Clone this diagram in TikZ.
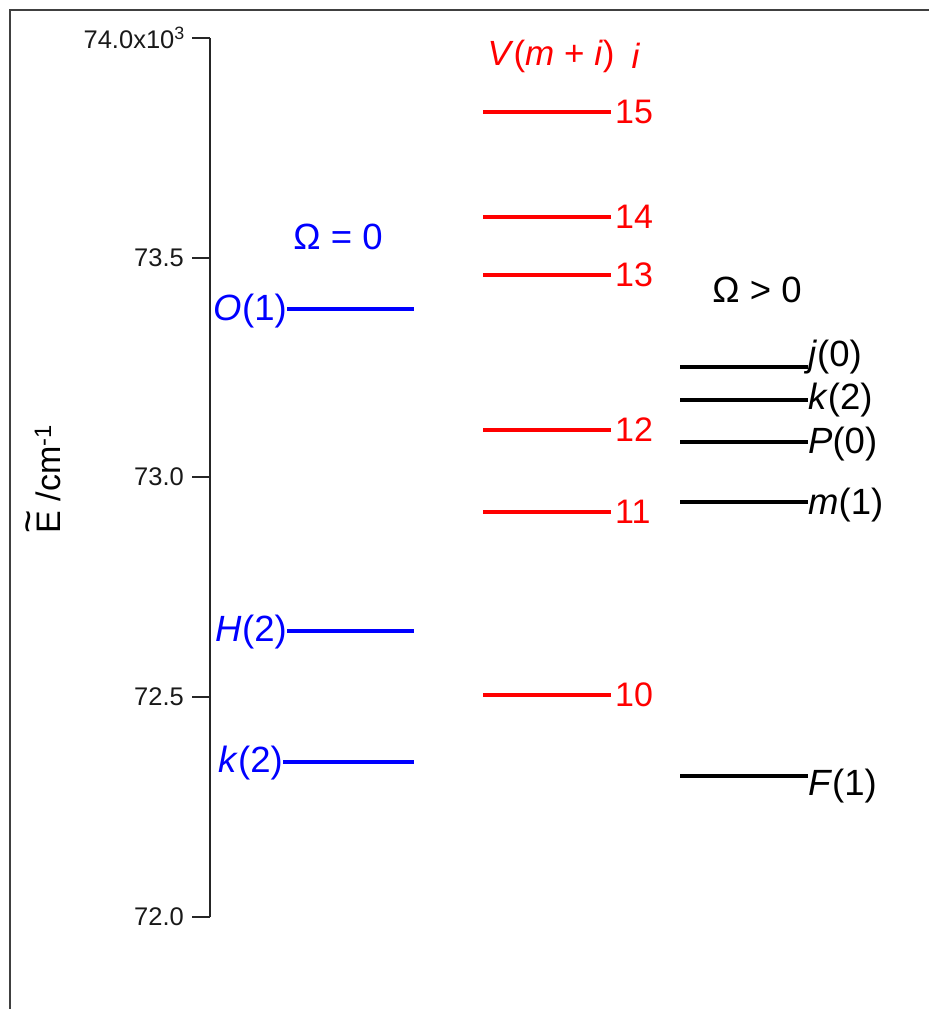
\documentclass[tikz,border=0pt]{standalone}
\usepackage{fontspec}
\setmainfont{Liberation Sans}
\newcommand{\tildeE}{{\setbox0\hbox{E}\rlap{\makebox[\wd0]{\raisebox{19pt}{\fontsize{40}{40}\selectfont\char"7E}}}E}}
\begin{document}
\begin{tikzpicture}[x=1pt,y=-1pt,
  ticklab/.style={font=\fontsize{25.5}{29}\selectfont, anchor=east, inner sep=0pt, text=black!90},
  lab/.style={font=\fontsize{36.5}{40}\selectfont, inner sep=0pt},
  num/.style={font=\fontsize{34}{38}\selectfont, inner sep=0pt},
  hdr/.style={font=\fontsize{36.5}{40}\selectfont, inner sep=0pt},
  lvl/.style={line width=3.2pt},
  ax/.style={line width=1.8pt, black!85},
  blu/.style={blue},
  rd/.style={red}]
\useasboundingbox (0,0) rectangle (929,1009);
% frame
\draw[line width=2.4pt, black!75] (10,1009) -- (10,10) -- (929,10);
% axis
\coordinate (atop) at (210,38);
\coordinate (abot) at (210,917);
\draw[ax] (atop) -- (abot);
\foreach \yy/\nm in {38/t740, 258/t735, 477/t730, 697/t725, 917/t720}{
  \coordinate (\nm) at (210,\yy);
  \draw[ax] (\nm) -- ++(-18,0);
}
\node[ticklab] (l740) at (185,38) {74.0x10\textsuperscript{3}};
\node[ticklab] (l735) at (184,258) {73.5};
\node[ticklab] (l730) at (184,477) {73.0};
\node[ticklab] (l725) at (184,697) {72.5};
\node[ticklab] (l720) at (184,917) {72.0};
% y label
\node[rotate=90, inner sep=0pt, font=\fontsize{34}{40}\selectfont] (ylab) at (43,479) {\tildeE\ /cm\textsuperscript{-1}};

% blue levels (Omega = 0)
\node[hdr, blu] (hb) at (338,237) {Ω = 0};
\coordinate (bO) at (287,309);
\coordinate (bH) at (287,631);
\coordinate (bk) at (283,762);
\draw[lvl, blu] (bO) -- (414,309);
\draw[lvl, blu] (bH) -- (414,631);
\draw[lvl, blu] (bk) -- (414,762);
\node[lab, blu, anchor=east] (lO) at (bO) [yshift=-2pt] {\textit{O}(1)};
\node[lab, blu, anchor=east] (lH) at (bH) [yshift=-1pt] {\textit{H}(2)};
\node[lab, blu, anchor=east] (lk) at (bk) [yshift=-1pt] {\textit{k}(2)};

% red levels
\node[num, font=\fontsize{35}{38}\selectfont, rd] (hr) at (551,56) {\textit{V}(\textit{m} + \textit{i})};
\node[num, font=\fontsize{35}{38}\selectfont, rd] (hri) at (636,56) {\textit{i}};
\foreach \yy/\nm/\tx in {112/r15/15, 217/r14/14, 275/r13/13, 430/r12/12, 512/r11/11, 695/r10/10}{
  \coordinate (\nm s) at (483,\yy);
  \coordinate (\nm e) at (611,\yy);
  \draw[lvl, rd] (\nm s) -- (\nm e);
  \node[num, rd, anchor=west] (\nm) at ([xshift=4pt]\nm e) {\tx};
}

% black levels (Omega > 0)
\node[hdr] (hk) at (757,290) {Ω > 0};
\foreach \yy/\nm/\tx/\dy in {367/kj/\textit{j}(0)/-10, 400/kk/\textit{k}(2)/0, 442/kP/\textit{P}(0)/2, 502/km/\textit{m}(1)/3, 776/kF/\textit{F}(1)/10}{
  \coordinate (\nm s) at (680,\yy);
  \coordinate (\nm e) at (808,\yy);
  \draw[lvl] (\nm s) -- (\nm e);
  \node[lab, anchor=west] (\nm) at ([yshift=-\dy pt]\nm e) {\tx};
}
\end{tikzpicture}
\end{document}
